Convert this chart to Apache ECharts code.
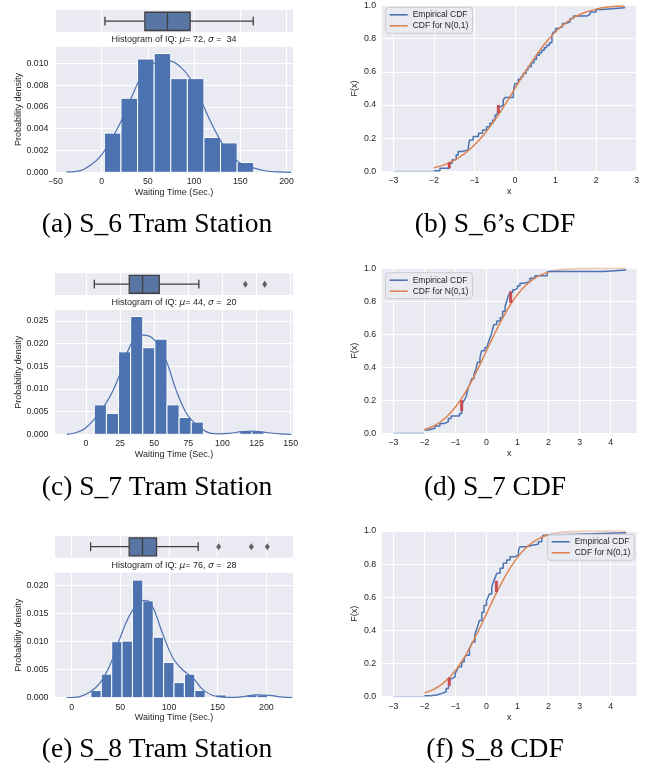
<!DOCTYPE html>
<html>
<head>
<meta charset="utf-8">
<script src="https://cdn.jsdelivr.net/npm/echarts@6/dist/echarts.min.js"></script>
<style>
html, body { margin: 0; padding: 0; background: #fff; }
#fig { width: 660px; height: 770px; }
</style>
</head>
<body>
<div id="fig"></div>
<script>
var chart = echarts.init(document.getElementById('fig'));

// ---------- S_6 ----------
var s6Edges = [3, 20.95, 38.9, 56.85, 74.8, 92.75, 110.7, 128.65, 146.6, 164.55];
var s6Density = [0.0036, 0.0068, 0.0104, 0.0109, 0.0086, 0.0086, 0.0032, 0.0027, 0.0009];
var s6KdeX = [-38, -23, -13, -2, 9, 20, 31, 41, 52, 63, 74, 85, 95, 106, 117, 128, 138, 149, 164, 178, 192, 205];
var s6KdeY = [0.00003, 0.00015, 0.0006, 0.0014, 0.0028, 0.0045, 0.0066, 0.0085, 0.0097, 0.0102, 0.0102, 0.0097, 0.0087, 0.0069, 0.0048, 0.003, 0.0017, 0.0009, 0.0004, 0.00012, 0.00003, 0];
var s6Box = [3.6, 46.8, 71.2, 95.7, 164];
var s6Fliers = [];
var s6Mu = 72, s6Sigma = 34;
var s6CdfX = [-2.0, -1.85, -1.62, -1.55, -1.45, -1.4, -1.3, -1.15, -1.12, -1.03, -0.9, -0.8, -0.7, -0.62, -0.55, -0.49, -0.44, -0.41, -0.35, -0.29, -0.25, -0.04, -0.02, 0.0, 0.08, 0.15, 0.2, 0.27, 0.32, 0.4, 0.47, 0.53, 0.6, 0.66, 0.72, 0.78, 0.85, 0.91, 0.95, 1.0, 1.05, 1.17, 1.25, 1.36, 1.44, 1.77, 1.85, 2.0, 2.15, 2.7];
var s6CdfY = [0.005, 0.02, 0.05, 0.07, 0.1, 0.12, 0.13, 0.15, 0.19, 0.21, 0.23, 0.25, 0.27, 0.29, 0.31, 0.34, 0.35, 0.39, 0.40, 0.43, 0.445, 0.48, 0.51, 0.53, 0.555, 0.57, 0.59, 0.61, 0.63, 0.655, 0.675, 0.70, 0.715, 0.73, 0.745, 0.76, 0.775, 0.82, 0.84, 0.86, 0.87, 0.89, 0.90, 0.92, 0.935, 0.945, 0.96, 0.975, 0.985, 0.99];
var s6Ks = [[-1.62, 0.02, 0.055], [-0.41, 0.35, 0.40]];

// ---------- S_7 ----------
var s7Edges = [6.1, 14.98, 23.86, 32.74, 41.62, 50.5, 59.38, 68.26, 77.14, 86.02, 94.9, 103.78, 112.66, 121.54, 130.42];
var s7Density = [0.0065, 0.0046, 0.0182, 0.026, 0.0191, 0.021, 0.0065, 0.0037, 0.0027, 0, 0, 0, 0.0007, 0.0007];
var s7KdeX = [-14, -7, -0.7, 6.6, 13.9, 20, 26, 31, 36, 42, 48, 54, 60, 66, 73.7, 81, 88, 95.6, 105, 114, 122, 132, 142, 150.5];
var s7KdeY = [0, 0.0004, 0.0013, 0.0035, 0.0065, 0.0098, 0.0142, 0.0186, 0.0212, 0.0219, 0.0214, 0.0193, 0.0153, 0.0098, 0.0046, 0.0021, 0.0006, 0.0001, 0.0002, 0.0006, 0.0007, 0.0004, 0.0001, 0];
var s7Box = [6.1, 31.7, 41.5, 53.7, 82.7];
var s7Fliers = [116.8, 131];
var s7Mu = 44, s7Sigma = 20;
var s7CdfX = [-2.0, -1.87, -1.66, -1.5, -1.34, -1.23, -1.14, -0.87, -0.8, -0.78, -0.72, -0.66, -0.62, -0.58, -0.53, -0.48, -0.4, -0.34, -0.29, -0.21, -0.16, -0.05, 0.03, 0.09, 0.14, 0.17, 0.21, 0.24, 0.33, 0.44, 0.52, 0.6, 0.65, 0.7, 0.76, 0.85, 0.92, 1.0, 1.08, 1.24, 1.4, 1.56, 1.96, 3.76, 4.5];
var s7CdfY = [0.02, 0.03, 0.045, 0.06, 0.07, 0.09, 0.105, 0.12, 0.135, 0.18, 0.2, 0.22, 0.25, 0.28, 0.30, 0.33, 0.36, 0.39, 0.43, 0.46, 0.5, 0.52, 0.535, 0.565, 0.59, 0.61, 0.64, 0.66, 0.68, 0.70, 0.74, 0.77, 0.80, 0.83, 0.855, 0.87, 0.88, 0.895, 0.91, 0.92, 0.94, 0.955, 0.98, 0.99, 0.99];
var s7Ks = [[-0.8, 0.135, 0.2], [0.78, 0.79, 0.86]];

// ---------- S_8 ----------
var s8Edges = [19.8, 30.47, 41.14, 51.81, 62.48, 73.15, 83.82, 94.49, 105.16, 115.83, 126.5, 137.17, 147.84, 158.51, 169.18, 179.85, 190.52, 201.19];
var s8Density = [0.0013, 0.0042, 0.0100, 0.0101, 0.0210, 0.0173, 0.0108, 0.0063, 0.0027, 0.0042, 0.0013, 0, 0.0005, 0, 0, 0.0005, 0.0005];
var s8KdeX = [-5, 8.5, 18.8, 29, 39.3, 49.6, 59.8, 70, 77, 83.8, 94, 104.3, 114.5, 124.8, 135, 145.3, 155.6, 165.8, 176, 189.7, 203.4, 217, 226.7];
var s8KdeY = [0, 0.0002, 0.001, 0.0026, 0.0058, 0.0106, 0.0148, 0.0171, 0.0174, 0.016, 0.0112, 0.007, 0.0049, 0.0035, 0.0014, 0.0004, 0.0001, 0.00006, 0.0002, 0.0005, 0.0004, 0.0001, 0];
var s8Box = [19.5, 59.1, 72.8, 87.2, 130];
var s8Fliers = [151, 184.6, 201];
var s8Mu = 76, s8Sigma = 28;
var s8CdfX = [-2.0, -1.82, -1.6, -1.44, -1.3, -1.23, -1.18, -1.1, -1.01, -0.95, -0.91, -0.8, -0.72, -0.66, -0.55, -0.5, -0.45, -0.37, -0.33, -0.29, -0.23, -0.15, -0.08, 0.0, 0.05, 0.09, 0.17, 0.22, 0.28, 0.33, 0.44, 0.54, 0.65, 0.76, 0.92, 1.03, 1.08, 1.29, 1.51, 1.67, 1.78, 1.83, 1.99, 2.9, 4.5];
var s8CdfY = [0.005, 0.01, 0.02, 0.03, 0.05, 0.06, 0.11, 0.12, 0.14, 0.16, 0.18, 0.21, 0.23, 0.25, 0.29, 0.31, 0.33, 0.38, 0.40, 0.42, 0.46, 0.51, 0.55, 0.58, 0.60, 0.62, 0.66, 0.69, 0.72, 0.745, 0.775, 0.805, 0.825, 0.845, 0.855, 0.885, 0.905, 0.915, 0.92, 0.935, 0.955, 0.975, 0.98, 0.99, 0.99];
var s8Ks = [[-1.2, 0.065, 0.115], [0.32, 0.63, 0.70]];

// N(0,1) cdf
var normX = [-2, -1.75, -1.5, -1.25, -1, -0.75, -0.5, -0.25, 0, 0.25, 0.5, 0.75, 1, 1.25, 1.5, 1.75, 2, 2.25, 2.5, 2.7, 3, 3.5, 4, 4.5];
var normY = [0.023, 0.04, 0.067, 0.106, 0.159, 0.227, 0.309, 0.401, 0.5, 0.599, 0.691, 0.773, 0.841, 0.894, 0.933, 0.96, 0.977, 0.988, 0.994, 0.9965, 0.9987, 0.9998, 1, 1];

// tick labels
var s6HistTicksX = [-50, 0, 50, 100, 150, 200];
var s6HistTicksY = [0, 0.002, 0.004, 0.006, 0.008, 0.010];
var s7HistTicksX = [0, 25, 50, 75, 100, 125, 150];
var s7HistTicksY = [0, 0.005, 0.010, 0.015, 0.020, 0.025];
var s8HistTicksX = [0, 50, 100, 150, 200];
var s8HistTicksY = [0, 0.005, 0.010, 0.015, 0.020];
var cdfTicksX6 = [-3, -2, -1, 0, 1, 2, 3];
var cdfTicksX = [-3, -2, -1, 0, 1, 2, 3, 4];
var cdfTicksY = [0, 0.2, 0.4, 0.6, 0.8, 1.0];

var captions = ['(a) S_6 Tram Station', '(b) S_6\u2019s CDF', '(c) S_7 Tram Station', '(d) S_7 CDF', '(e) S_8 Tram Station', '(f) S_8 CDF'];

// ---------- styles / layout ----------
var BG = '#eaeaf2', BLUE = '#4c72b0', ORANGE = '#dd8452', RED = '#c44e52', TXT = '#262626';
var FONT = '"Liberation Sans", Arial, sans-serif';

// left, top, width, height for: box, hist, cdf per row
var gridRects = [
    [55, 10, 238, 22.3], [55, 46.7, 238, 125.6], [381.7, 5.3, 255, 166.2],
    [55, 273.3, 238, 21.7], [55, 310, 238, 124.3], [381.7, 268.3, 255, 165],
    [55, 535.7, 238, 22], [55, 572.7, 238, 125], [381.7, 531, 255, 165.7]
];

function fmt(d) {
    return function (v) {
        var s = Math.abs(v).toFixed(d);
        return (v < -1e-9 ? '\u2212' : '') + s;
    };
}

function axisCfg(gi, min, max, ticks, showLabels, f, name, gap, margin) {
    return {
        type: 'value', gridIndex: gi, min: min, max: max,
        axisLine: { show: false },
        axisTick: { show: false, customValues: ticks },
        axisLabel: {
            show: showLabels, customValues: ticks, formatter: f, color: TXT,
            fontFamily: FONT, fontSize: 8.8, margin: margin
        },
        splitLine: { show: ticks.length > 0, lineStyle: { color: '#ffffff', width: 1.1 } },
        name: name || '', nameLocation: 'middle', nameGap: gap,
        nameTextStyle: { color: TXT, fontFamily: FONT, fontSize: 9 }
    };
}

function pairs(xs, ys) {
    return xs.map(function (x, i) { return [x, ys[i]]; });
}

function histData(edges, dens) {
    return dens.map(function (h, i) { return [edges[i], edges[i + 1], h]; });
}

function renderBar(params, api) {
    var h = api.value(2);
    if (!h) return null;
    var p0 = api.coord([api.value(0), h]);
    var p1 = api.coord([api.value(1), 0]);
    return {
        type: 'rect',
        shape: { x: p0[0], y: p0[1], width: p1[0] - p0[0], height: p1[1] - p0[1] },
        style: { fill: BLUE, stroke: '#ffffff', lineWidth: 1 }
    };
}

function renderBox(params, api) {
    var a = api.coord([api.value(1), 0.9]);
    var b = api.coord([api.value(3), 0.08]);
    var md = api.coord([api.value(2), 0.5]);
    var lo = api.coord([api.value(0), 0.5]);
    var hi = api.coord([api.value(4), 0.5]);
    var capT = api.coord([0, 0.7])[1], capB = api.coord([0, 0.3])[1];
    var st = { stroke: '#3f3f3f', lineWidth: 1.3 };
    return {
        type: 'group', children: [
            { type: 'line', shape: { x1: lo[0], y1: lo[1], x2: a[0], y2: lo[1] }, style: st },
            { type: 'line', shape: { x1: b[0], y1: hi[1], x2: hi[0], y2: hi[1] }, style: st },
            { type: 'line', shape: { x1: lo[0], y1: capT, x2: lo[0], y2: capB }, style: st },
            { type: 'line', shape: { x1: hi[0], y1: capT, x2: hi[0], y2: capB }, style: st },
            { type: 'rect', shape: { x: a[0], y: a[1], width: b[0] - a[0], height: b[1] - a[1] },
              style: { fill: '#5975a4', stroke: '#3f3f3f', lineWidth: 1.3 } },
            { type: 'line', shape: { x1: md[0], y1: a[1], x2: md[0], y2: b[1] }, style: st }
        ]
    };
}

var grids = gridRects.map(function (r) {
    return { left: r[0], top: r[1], width: r[2], height: r[3], show: true,
             backgroundColor: BG, borderWidth: 0, containLabel: false };
});

var xAxes = [], yAxes = [], series = [];

var rows = [
    { edges: s6Edges, dens: s6Density, kx: s6KdeX, ky: s6KdeY, box: s6Box, fliers: s6Fliers,
      hx: [-50.4, 207], hy: 0.01153, tx: s6HistTicksX, ty: s6HistTicksY,
      cx: s6CdfX, cy: s6CdfY, ks: s6Ks, cdfX: [-3.286, 3.0], ctx: cdfTicksX6, normEnd: 2.7, tail: false },
    { edges: s7Edges, dens: s7Density, kx: s7KdeX, ky: s7KdeY, box: s7Box, fliers: s7Fliers,
      hx: [-22.7, 151.7], hy: 0.02743, tx: s7HistTicksX, ty: s7HistTicksY,
      cx: s7CdfX, cy: s7CdfY, ks: s7Ks, cdfX: [-3.376, 4.84], ctx: cdfTicksX, normEnd: 2.0, tail: true },
    { edges: s8Edges, dens: s8Density, kx: s8KdeX, ky: s8KdeY, box: s8Box, fliers: s8Fliers,
      hx: [-17.1, 227.4], hy: 0.02232, tx: s8HistTicksX, ty: s8HistTicksY,
      cx: s8CdfX, cy: s8CdfY, ks: s8Ks, cdfX: [-3.376, 4.84], ctx: cdfTicksX, normEnd: 2.0, tail: true }
];

rows.forEach(function (r, k) {
    var gBox = k * 3, gHist = k * 3 + 1, gCdf = k * 3 + 2;

    // boxplot strip
    xAxes.push(axisCfg(gBox, r.hx[0], r.hx[1], r.tx, false, fmt(0), '', 0, 0));
    yAxes.push({ type: 'value', gridIndex: gBox, min: 0, max: 1, show: false });
    series.push({
        type: 'custom', xAxisIndex: gBox, yAxisIndex: gBox, renderItem: renderBox,
        encode: { x: [0, 1, 2, 3, 4] }, data: [r.box], silent: true
    });
    if (r.fliers.length) {
        series.push({
            type: 'scatter', xAxisIndex: gBox, yAxisIndex: gBox, symbol: 'diamond', symbolSize: [5, 7],
            itemStyle: { color: '#3f3f3f' }, silent: true,
            data: r.fliers.map(function (v) { return [v, 0.5]; })
        });
    }

    // histogram + kde
    xAxes.push(axisCfg(gHist, r.hx[0], r.hx[1], r.tx, true, fmt(0), 'Waiting Time (Sec.)', 15.5, 5));
    yAxes.push(axisCfg(gHist, 0, r.hy, r.ty, true, fmt(3), 'Probability density', 27.5, 6.5));
    series.push({
        type: 'custom', xAxisIndex: gHist, yAxisIndex: gHist, renderItem: renderBar,
        encode: { x: [0, 1], y: 2 }, data: histData(r.edges, r.dens), silent: true
    });
    series.push({
        type: 'line', xAxisIndex: gHist, yAxisIndex: gHist, data: pairs(r.kx, r.ky),
        smooth: 0.35, showSymbol: false, silent: true,
        lineStyle: { color: BLUE, width: 1.2 }
    });

    // cdf panel
    xAxes.push(axisCfg(gCdf, r.cdfX[0], r.cdfX[1], r.ctx, true, fmt(0), 'x', 16, 5));
    yAxes.push(axisCfg(gCdf, 0, 1, cdfTicksY, true, fmt(1), 'F(x)', 23, 5.5));

    var nMain = [], nTail = [];
    normX.forEach(function (x, i) {
        if (x <= r.normEnd + 1e-9) nMain.push([x, normY[i]]);
        if (r.tail && x >= r.normEnd - 1e-9) nTail.push([x, normY[i]]);
    });

    series.push({
        name: 'lead', type: 'line', xAxisIndex: gCdf, yAxisIndex: gCdf,
        data: [[-3, 0], [r.cx[0], 0]], showSymbol: false, silent: true,
        lineStyle: { color: BLUE, width: 1.5, opacity: 0.35 }
    });
    if (r.tail) {
        series.push({
            name: 'tail', type: 'line', xAxisIndex: gCdf, yAxisIndex: gCdf, data: nTail,
            smooth: 0.3, showSymbol: false, silent: true,
            lineStyle: { color: ORANGE, width: 1.5, opacity: 0.45 }
        });
    }
    series.push({
        name: 'Empirical CDF', type: 'line', xAxisIndex: gCdf, yAxisIndex: gCdf,
        data: pairs(r.cx, r.cy), step: 'end', showSymbol: false, silent: true,
        itemStyle: { color: BLUE }, lineStyle: { color: BLUE, width: 1.5 }
    });
    series.push({
        name: 'CDF for N(0,1)', type: 'line', xAxisIndex: gCdf, yAxisIndex: gCdf,
        data: nMain, smooth: 0.3, showSymbol: false, silent: true,
        itemStyle: { color: ORANGE }, lineStyle: { color: ORANGE, width: 1.5 }
    });
    r.ks.forEach(function (s) {
        series.push({
            name: 'ks', type: 'line', xAxisIndex: gCdf, yAxisIndex: gCdf,
            data: [[s[0], s[1]], [s[0], s[2]]], showSymbol: false, silent: true,
            lineStyle: { color: RED, width: 3 }
        });
    });
});

function legendCfg(left, top) {
    return {
        data: ['Empirical CDF', 'CDF for N(0,1)'], orient: 'vertical', left: left, top: top,
        icon: 'rect', itemWidth: 18, itemHeight: 1.6, itemGap: 2, padding: [3, 4, 3, 4],
        backgroundColor: 'rgba(234,234,242,0.8)', borderColor: '#cccccc', borderWidth: 1, borderRadius: 3,
        textStyle: { color: TXT, fontFamily: FONT, fontSize: 8.5 }, selectedMode: false
    };
}

var graphics = [];
var stats = [[s6Mu, s6Sigma, 40], [s7Mu, s7Sigma, 302.3], [s8Mu, s8Sigma, 566]];
stats.forEach(function (s) {
    graphics.push({
        type: 'text', x: 174, y: s[2],
        style: {
            text: '{n|Histogram of IQ: }{m|\u03bc}{n|= ' + s[0] + ', }{m|\u03c3}{n| =  ' + s[1] + '}',
            rich: {
                n: { fontFamily: FONT, fontSize: 9, fill: TXT },
                m: { fontFamily: '"DejaVu Sans"', fontStyle: 'italic', fontSize: 9, fill: TXT }
            },
            align: 'center', verticalAlign: 'middle'
        }
    });
});
var capPos = [[157, 225], [495, 225], [157, 488], [495, 488], [157, 750], [495, 750]];
captions.forEach(function (c, i) {
    graphics.push({
        type: 'text', x: capPos[i][0], y: capPos[i][1],
        style: {
            text: c, fontFamily: '"Liberation Serif", "Times New Roman", serif', fontSize: 27.5,
            fill: '#000', align: 'center', verticalAlign: 'middle'
        }
    });
});

var option = {
    backgroundColor: '#ffffff',
    animation: false,
    grid: grids,
    xAxis: xAxes,
    yAxis: yAxes,
    legend: [legendCfg(385.7, 7.3), legendCfg(385.7, 272.7), legendCfg(547.7, 534.3)],
    graphic: graphics,
    series: series
};

chart.setOption(option);
</script>
</body>
</html>
